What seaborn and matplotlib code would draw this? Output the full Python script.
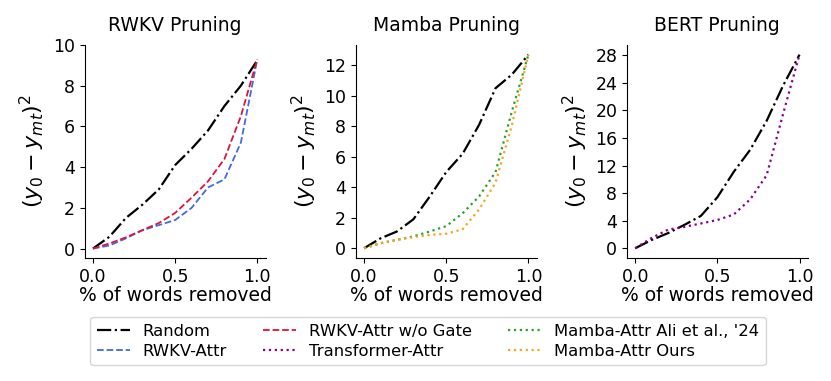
import pandas as pd
import matplotlib
matplotlib.use("Agg")
import matplotlib.pyplot as plt
import seaborn as sns

# x positions (fraction of words removed)
frac = [0.0, 0.1, 0.2, 0.3, 0.4, 0.5, 0.6, 0.7, 0.8, 0.9, 1.0]

# RWKV panel
rwkv_random = [0.0, 0.58, 1.5, 2.15, 2.9, 4.1, 4.9, 5.8, 7.0, 8.0, 9.25]
rwkv_attr = [0.0, 0.15, 0.5, 0.9, 1.15, 1.4, 2.0, 3.0, 3.4, 5.2, 9.3]
rwkv_nogate = [0.0, 0.25, 0.55, 0.9, 1.25, 1.75, 2.5, 3.3, 4.4, 6.5, 9.3]

# Mamba panel
mamba_random = [0.0, 0.65, 1.1, 1.9, 3.4, 5.0, 6.2, 8.1, 10.5, 11.4, 12.7]
mamba_ali = [0.0, 0.33, 0.55, 0.78, 1.1, 1.45, 2.3, 3.4, 5.0, 9.0, 12.7]
mamba_ours = [0.0, 0.33, 0.55, 0.73, 0.88, 0.95, 1.25, 2.55, 4.3, 8.1, 12.7]

# BERT panel
bert_random = [0.0, 1.2, 2.2, 3.4, 4.7, 7.4, 11.1, 14.3, 18.5, 23.6, 28.1]
bert_attr = [0.0, 1.5, 2.7, 3.1, 3.6, 4.1, 4.9, 7.1, 10.6, 19.5, 28.1]

sns.set_style("ticks", {'text.color': 'black', 'axes.labelcolor': 'black',
                        'xtick.color': 'black', 'ytick.color': 'black',
                        'axes.edgecolor': 'black'})
plt.rcParams['font.family'] = ['DejaVu Sans']

styles = {
    'Random': dict(color='black', linestyle='-.', linewidth=1.6),
    'RWKV-Attr': dict(color='#4169E1', linestyle='--', linewidth=1.3),
    'RWKV-Attr w/o Gate': dict(color='#DC143C', linestyle='--', linewidth=1.3),
    'Transformer-Attr': dict(color='#8B008B', linestyle=':', linewidth=1.6),
    "Mamba-Attr Ali et al., '24": dict(color='#2CA02C', linestyle=':', linewidth=1.6),
    'Mamba-Attr Ours': dict(color='#F0A81E', linestyle=':', linewidth=1.6),
}

panels = [
    ('RWKV Pruning', [('Random', rwkv_random), ('RWKV-Attr', rwkv_attr),
                      ('RWKV-Attr w/o Gate', rwkv_nogate)], range(0, 11, 2)),
    ('Mamba Pruning', [('Random', mamba_random),
                       ("Mamba-Attr Ali et al., '24", mamba_ali),
                       ('Mamba-Attr Ours', mamba_ours)], range(0, 13, 2)),
    ('BERT Pruning', [('Random', bert_random), ('Transformer-Attr', bert_attr)],
     range(0, 29, 4)),
]

fig, axes = plt.subplots(1, 3, figsize=(8.31, 3.81), dpi=100)
fig.subplots_adjust(left=0.102, right=0.972, top=0.882, bottom=0.323, wspace=0.5)

handles = {}
for ax, (title, series, yticks) in zip(axes, panels):
    for name, vals in series:
        sns.lineplot(x=frac, y=vals, ax=ax, label=name, **styles[name])
    ax.set_title(title, fontsize=13.5, pad=10)
    ax.set_xlabel('% of words removed', fontsize=13.5, labelpad=0)
    ax.set_ylabel(r'$(y_0 - y_{mt})^2$', fontsize=16, labelpad=4)
    ax.set_xticks([0.0, 0.5, 1.0])
    ax.set_yticks(list(yticks))
    ax.tick_params(labelsize=12.5)
    h, l = ax.get_legend_handles_labels()
    for hh, ll in zip(h, l):
        handles[ll] = hh
    ax.get_legend().remove()
    sns.despine(ax=ax)

axes[0].set_ylim(-0.46, 10.0)

order = ['Random', 'RWKV-Attr', 'RWKV-Attr w/o Gate', 'Transformer-Attr',
         "Mamba-Attr Ali et al., '24", 'Mamba-Attr Ours']
fig.legend([handles[k] for k in order], order, loc='lower center',
           bbox_to_anchor=(0.515, 0.02), ncol=3, fontsize=11.8,
           columnspacing=2.2, handlelength=2.0, labelspacing=0.3, frameon=True)

plt.savefig('out.png', dpi=100)
